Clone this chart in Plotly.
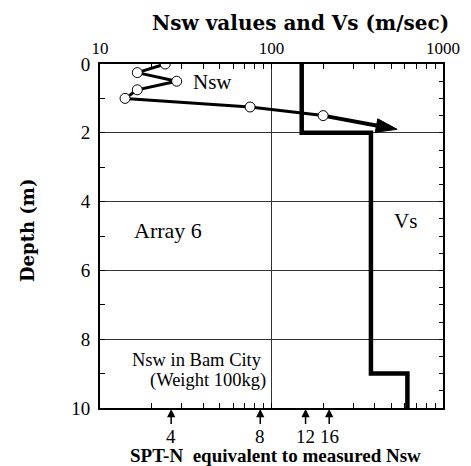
import numpy as np
import plotly.graph_objects as go

# ---- data ----
nsw_depth = [0.0, 0.25, 0.5, 0.75, 1.0, 1.25, 1.5]
nsw_vals = [24, 16.5, 28, 16.5, 14, 75, 200]
arrow_depth = [1.5, 1.9]
arrow_vals = [200, 540]
vs_depth = [0, 2, 9, 10]
vs_vals = [150, 380, 620, 620]
spt_labels = ["4", "8", "12", "16"]
spt_nsw = [26, 86, 158, 217]
x_major = [10, 100, 1000]
x_minor = [20, 30, 40, 50, 60, 70, 80, 90, 200, 300, 400, 500, 600, 700, 800, 900]
depth_ticks = [0, 2, 4, 6, 8, 10]

SERIF = "Liberation Serif"
BOLD_SERIF = "DejaVu Serif"

fig = go.Figure()

fig.add_trace(go.Scatter(x=vs_vals, y=vs_depth, mode="lines", line_shape="vh",
                         line=dict(color="black", width=4.5), hoverinfo="skip", showlegend=False))
fig.add_trace(go.Scatter(x=arrow_vals, y=arrow_depth, mode="lines+markers",
                         line=dict(color="black", width=4),
                         marker=dict(symbol=["circle", "arrow"], size=[0, 22], angleref="previous",
                                     color="rgb(0,0,0)", opacity=1,
                                     line=dict(width=1, color="rgb(0,0,0)")),
                         opacity=1, hoverinfo="skip", showlegend=False))
fig.add_trace(go.Scatter(x=nsw_vals, y=nsw_depth, mode="lines+markers",
                         line=dict(color="black", width=3),
                         marker=dict(symbol="circle", size=10, color="white",
                                     line=dict(color="black", width=1)),
                         hoverinfo="skip", showlegend=False))
# helper trace so the mirrored axes are drawn
fig.add_trace(go.Scatter(x=[10], y=[0], xaxis="x2", yaxis="y2", mode="markers",
                         marker=dict(opacity=0), hoverinfo="skip", showlegend=False))

W, H = 471, 466
L, R, T, B = 100, 28, 64, 58

fig.update_layout(
    width=W, height=H,
    margin=dict(l=L, r=R, t=T, b=B),
    paper_bgcolor="white", plot_bgcolor="white",
    showlegend=False,
    xaxis=dict(type="log", range=[1, 3], side="top", tickvals=x_major,
               ticktext=[str(v) for v in x_major], ticks="inside", ticklen=5,
               tickcolor="black", tickfont=dict(family=SERIF, size=17, color="black"),
               showgrid=True, gridcolor="#333", gridwidth=1,
               showline=True, linecolor="black", linewidth=2, zeroline=False,
               ticklabelstandoff=1,
               minor=dict(tickvals=x_minor, ticks="inside", ticklen=5, tickcolor="black",
                          showgrid=False)),
    xaxis2=dict(type="log", range=[1, 3], overlaying="x", side="bottom", anchor="y",
                tickvals=x_minor + x_major, ticks="inside", ticklen=5, tickcolor="black",
                showticklabels=False, showgrid=False, showline=True, linecolor="black",
                linewidth=2, zeroline=False),
    yaxis=dict(range=[10, 0], tickvals=depth_ticks, ticks="inside", ticklen=5,
               tickcolor="black", tickfont=dict(family=SERIF, size=19, color="black"),
               showgrid=True, gridcolor="#333", gridwidth=1,
               showline=True, linecolor="black", linewidth=2, zeroline=False,
               ticklabelstandoff=4,
               minor=dict(dtick=1, ticks="inside", ticklen=5, tickcolor="black", showgrid=False)),
    yaxis2=dict(range=[10, 0], overlaying="y", side="right", anchor="x", dtick=0.5,
                ticks="inside", ticklen=4, tickcolor="black", showticklabels=False,
                showgrid=False, showline=True, linecolor="black", linewidth=2, zeroline=False),
)

ann = []
c = dict(xanchor="center", yanchor="middle")
# in-plot texts
ann.append(dict(x=np.log10(45), y=0.51, text="Nsw", showarrow=False, **c,
                font=dict(family=SERIF, size=21, color="black")))
ann.append(dict(x=np.log10(25), y=4.83, text="Array 6", showarrow=False, **c,
                font=dict(family=SERIF, size=22, color="black")))
ann.append(dict(x=np.log10(608), y=4.56, text="Vs", showarrow=False, **c,
                font=dict(family=SERIF, size=21, color="black")))
ann.append(dict(x=np.log10(91), y=8.59, text="Nsw in Bam City", showarrow=False,
                xanchor="right", yanchor="middle",
                font=dict(family=SERIF, size=18.5, color="black")))
ann.append(dict(x=np.log10(95), y=9.19, text="(Weight 100kg)", showarrow=False,
                xanchor="right", yanchor="middle",
                font=dict(family=SERIF, size=18.5, color="black")))
# SPT-N arrows
for lab, v in zip(spt_labels, spt_nsw):
    ann.append(dict(x=np.log10(v), y=10, xref="x", yref="y", text=lab, showarrow=True,
                    ax=0, ay=28, arrowhead=2, arrowsize=1.1, arrowwidth=1.5, arrowcolor="black",
                    standoff=1, font=dict(family=SERIF, size=19, color="black")))
# titles
ann.append(dict(x=(300 - L) / (W - L - R), y=(H - B - 23) / (H - T - B), xref="paper", yref="paper",
                text="<b>Nsw values and Vs (m/sec)</b>", showarrow=False, **c,
                font=dict(family=BOLD_SERIF, size=20, color="black")))
ann.append(dict(x=(27 - L) / (W - L - R), y=(H - B - 231) / (H - T - B), xref="paper", yref="paper",
                text="<b>Depth (m)</b>", showarrow=False, textangle=-90, **c,
                font=dict(family=BOLD_SERIF, size=18, color="black")))
ann.append(dict(x=(275 - L) / (W - L - R), y=(H - B - 455.5) / (H - T - B), xref="paper", yref="paper",
                text="<b>SPT-N\u00a0 equivalent to measured Nsw</b>", showarrow=False, **c,
                font=dict(family=SERIF, size=19, color="black")))
fig.update_layout(annotations=ann)

fig.write_html("out.html", config={"displayModeBar": False},
               post_script="document.body.style.margin='0px';")
